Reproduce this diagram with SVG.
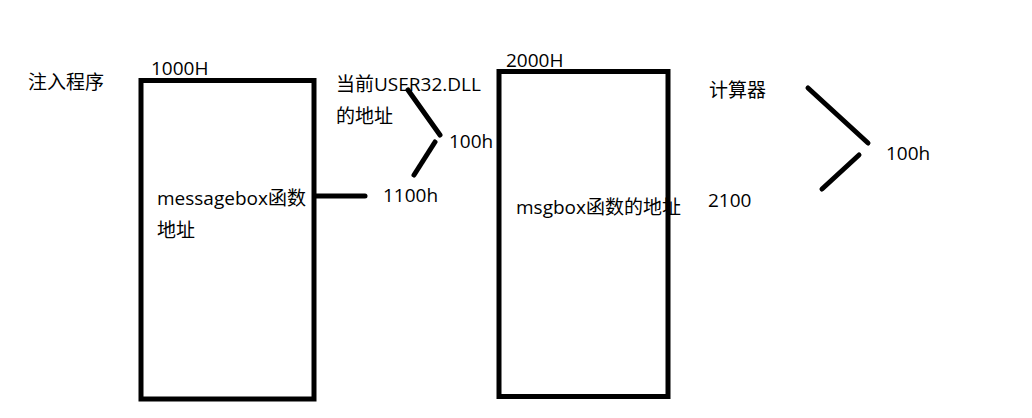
<svg xmlns="http://www.w3.org/2000/svg" width="1032" height="418" viewBox="0 0 1032 418">
<style>
.t{font-family:"Open Sans","Noto Sans CJK SC",sans-serif;font-size:19px;fill:#000}
.b{fill:none;stroke:#000;stroke-width:5}
.c{stroke:#000;stroke-width:5;stroke-linecap:round;fill:none}
</style>
<rect width="1032" height="418" fill="#fff"/>
<g id="label-inject"><text class="t" x="28" y="89">注入程序</text></g>
<g id="box1">
<rect class="b" x="141" y="80.5" width="173" height="318.5"/>
<text class="t" x="151" y="75">1000H</text>
<text class="t" x="157" y="205">messagebox函数</text>
<text class="t" x="157" y="237">地址</text>
</g>
<g id="label-user32">
<text class="t" x="336" y="91">当前USER32.DLL</text>
<text class="t" x="336" y="123">的地址</text>
</g>
<g id="label-100h-a"><text class="t" x="449" y="148">100h</text></g>
<g id="label-1100h"><text class="t" x="383" y="202">1100h</text></g>
<g id="box2">
<rect class="b" x="499" y="71.5" width="169" height="325"/>
<text class="t" x="506" y="67">2000H</text>
<text class="t" x="516" y="214">msgbox函数的地址</text>
</g>
<g id="label-calc"><text class="t" x="709" y="97">计算器</text></g>
<g id="label-100h-b"><text class="t" x="886" y="160">100h</text></g>
<g id="label-2100"><text class="t" x="708" y="207">2100</text></g>
<g id="connectors">
<line class="c" x1="316" y1="196" x2="365" y2="196"/>
<line class="c" x1="408" y1="90" x2="440" y2="135"/>
<line class="c" x1="435" y1="142" x2="414" y2="175"/>
<line class="c" x1="808" y1="88" x2="868" y2="143"/>
<line class="c" x1="859" y1="155" x2="822" y2="189"/>
</g>
</svg>
